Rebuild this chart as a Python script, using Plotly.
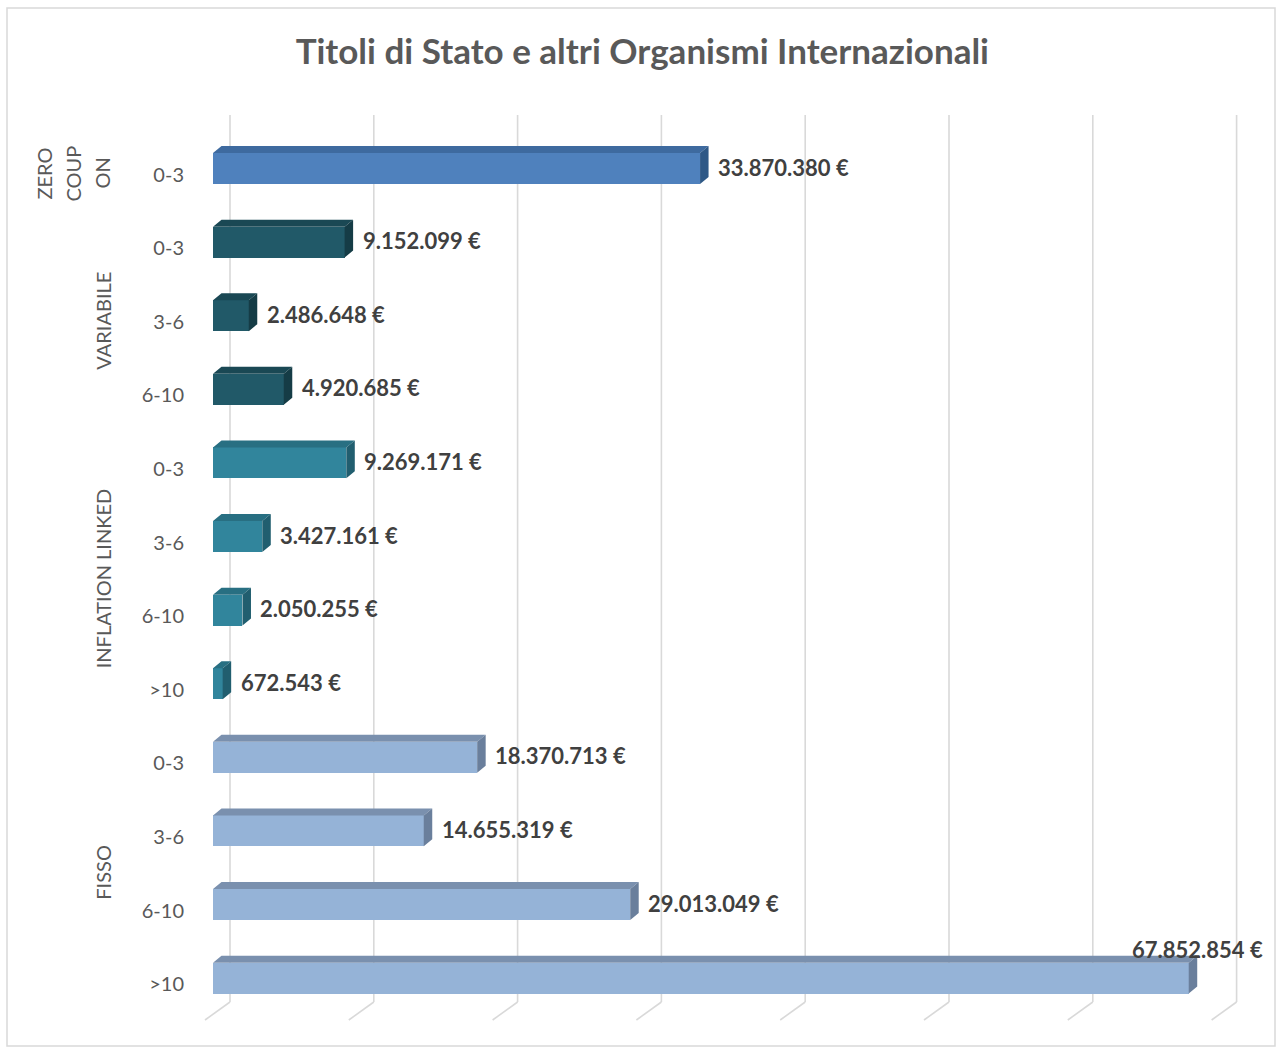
import plotly.graph_objects as go

# ---- data ---------------------------------------------------------------
groups = ["ZERO COUPON", "VARIABILE", "VARIABILE", "VARIABILE",
          "INFLATION LINKED", "INFLATION LINKED", "INFLATION LINKED", "INFLATION LINKED",
          "FISSO", "FISSO", "FISSO", "FISSO"]
maturities = ["0-3", "0-3", "3-6", "6-10",
              "0-3", "3-6", "6-10", ">10",
              "0-3", "3-6", "6-10", ">10"]
values = [33870380, 9152099, 2486648, 4920685,
          9269171, 3427161, 2050255, 672543,
          18370713, 14655319, 29013049, 67852854]
# group captions, already wrapped into lines as they appear on the axis
group_lines = {"ZERO COUPON": ["ZERO", "COUP", "ON"], "VARIABILE": ["VARIABILE"],
               "INFLATION LINKED": ["INFLATION LINKED"], "FISSO": ["FISSO"]}
grid_values = [0, 10e6, 20e6, 30e6, 40e6, 50e6, 60e6, 70e6]

# ---- styling: front / top / side shades for each group -------------------
palette = {
    "ZERO COUPON":      ("#4F81BD", "#3E6A9F", "#2E5886"),
    "VARIABILE":        ("#215968", "#1A4854", "#153C46"),
    "INFLATION LINKED": ("#31859C", "#286F82", "#215E6F"),
    "FISSO":            ("#95B3D7", "#7A90AE", "#6A7F9C"),
}

# ---- figure geometry (pixels) --------------------------------------------
W, H = 1277, 1050
PL, PR, PT, PB = 200, 1265, 115, 1025          # plot area edges
X0_PX = 213                                    # pixel of value 0 on the front plane
PX_PER_VAL = 14.38e-6                          # pixels per euro
ROW0_PX, ROW_STEP = 168.5, 73.6                # first row centre, row pitch
BAR_W = 0.42                                   # bar thickness (row units)
DEPTH_X, DEPTH_Y = 8.5, 7.0                    # 3-D extrusion of the bars (px)

def xu(px):   # pixel offset -> x units
    return px / PX_PER_VAL

def yu(px):   # pixel offset -> row units
    return px / ROW_STEP

def y_of_px(py):
    return (py - ROW0_PX) / ROW_STEP

def xpaper(px):
    return (px - PL) / (PR - PL)

x_range = [(PL - X0_PX) / PX_PER_VAL, (PR - X0_PX) / PX_PER_VAL]
y_range = [y_of_px(PB), y_of_px(PT)]           # reversed: first row on top

rows = list(range(len(values)))

fig = go.Figure()

# front faces
fig.add_trace(go.Bar(
    y=rows, x=values, orientation="h", width=BAR_W,
    marker=dict(color=[palette[g][0] for g in groups], line=dict(width=0)),
    showlegend=False, hoverinfo="skip"))

# top and side faces, one trace per group shade
for name, (front, top, side) in palette.items():
    tx, ty, sx, sy = [], [], [], []
    for r, g, v in zip(rows, groups, values):
        if g != name:
            continue
        yt, yb = r - BAR_W / 2, r + BAR_W / 2
        dx, dy = xu(DEPTH_X), yu(DEPTH_Y)
        tx += [0, dx, v + dx, v, 0, None]
        ty += [yt, yt - dy, yt - dy, yt, yt, None]
        sx += [v, v + dx, v + dx, v, v, None]
        sy += [yt, yt - dy, yb - dy, yb, yt, None]
    fig.add_trace(go.Scatter(x=tx, y=ty, mode="lines", fill="toself",
                             fillcolor=top, line=dict(width=0),
                             hoverinfo="skip", showlegend=False))
    fig.add_trace(go.Scatter(x=sx, y=sy, mode="lines", fill="toself",
                             fillcolor=side, line=dict(width=0),
                             hoverinfo="skip", showlegend=False))

# back-wall gridlines with their floor segments, behind the bars
shapes = []
grid_line = dict(color="#D9D9D9", width=1.6)
for g in grid_values:
    shapes.append(dict(type="line", xref="x", yref="y", layer="below",
                       x0=g + xu(17), x1=g + xu(17),
                       y0=y_range[1], y1=y_of_px(1002), line=grid_line))
    shapes.append(dict(type="line", xref="x", yref="y", layer="below",
                       x0=g + xu(17), x1=g - xu(8),
                       y0=y_of_px(1002), y1=y_of_px(1020), line=grid_line))

# chart border
shapes.append(dict(type="rect", xref="paper", yref="paper",
                   x0=xpaper(7), x1=xpaper(1275),
                   y0=(PB - 1046) / (PB - PT), y1=(PB - 8) / (PB - PT),
                   line=dict(color="#D9D9D9", width=1.5), layer="below"))

annotations = []

# value labels
label_font = dict(family="Lato", size=22, color="#404040", weight="bold")
vmax = max(values)
for r, v in zip(rows, values):
    text = f"{v:,}".replace(",", ".") + " €"
    if v > 0.9 * vmax:
        annotations.append(dict(
            x=v + xu(DEPTH_X), y=r - BAR_W / 2 - yu(DEPTH_Y + 6),
            text=text, showarrow=False, xanchor="center", yanchor="middle",
            font=label_font))
    else:
        annotations.append(dict(
            x=v + xu(16), y=r - yu(1.5),
            text=text, showarrow=False, xanchor="left", yanchor="middle",
            font=label_font))

# group captions on the category axis
order = []
for g in groups:
    if g not in order:
        order.append(g)
for g in order:
    members = [r for r, gg in zip(rows, groups) if gg == g]
    yc = sum(members) / len(members) + yu(5)
    lines = group_lines[g]
    cx = 72 if len(lines) > 1 else 103
    for k, line in enumerate(lines):
        lx = cx + (k - (len(lines) - 1) / 2) * 29
        annotations.append(dict(
            x=xpaper(lx), xref="paper", y=yc, yref="y",
            text=line, showarrow=False, textangle=-90,
            xanchor="center", yanchor="middle",
            font=dict(family="Lato", size=20, color="#595959")))

fig.update_layout(
    width=W, height=H,
    margin=dict(l=PL, r=W - PR, t=PT, b=H - PB, pad=0),
    paper_bgcolor="white", plot_bgcolor="white",
    bargap=0,
    title=dict(text="<b>Titoli di Stato e altri Organismi Internazionali</b>",
               x=0.503, xanchor="center", y=1 - 52 / H, yanchor="middle",
               font=dict(family="Lato", size=35, color="#595959")),
    xaxis=dict(range=x_range, visible=False, showgrid=False, zeroline=False),
    yaxis=dict(range=y_range, tickvals=[r + yu(6) for r in rows], ticktext=maturities,
               showgrid=False, zeroline=False, showline=False, ticks="",
               ticklabelstandoff=15,
               tickfont=dict(family="Lato", size=20, color="#595959")),
    annotations=annotations,
    shapes=shapes,
)

fig.write_html("out.html")
